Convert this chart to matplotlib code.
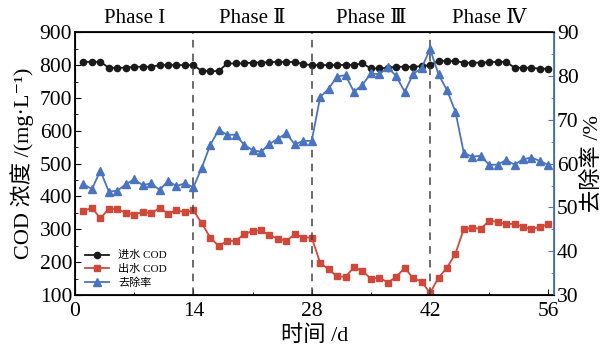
import matplotlib
matplotlib.use("Agg")
import matplotlib.pyplot as plt
from matplotlib.ticker import MultipleLocator

plt.rcParams['font.family'] = ['Liberation Serif', 'DejaVu Serif', 'Noto Sans CJK SC']
plt.rcParams['axes.unicode_minus'] = False

# data
days = list(range(1, 57))
cod_in = [810, 810, 810, 792, 792, 792, 795, 795, 795, 800, 800, 800, 800, 800,
          782, 782, 782, 805, 805, 805, 808, 808, 809, 810, 809, 810, 803, 800,
          800, 800, 800, 801, 801, 805, 790, 790, 792, 795, 795, 795, 797, 800,
          813, 813, 812, 808, 807, 808, 809, 810, 810, 792, 792, 792, 789, 789]
cod_out = [356, 366, 333, 363, 361, 351, 345, 353, 349, 365, 348, 358, 352, 358,
           318, 275, 249, 265, 265, 285, 295, 297, 282, 272, 265, 285, 275, 275,
           198, 178, 157, 155, 185, 173, 150, 153, 138, 155, 183, 151, 141, 106,
           153, 183, 226, 301, 304, 302, 326, 323, 316, 317, 307, 302, 307, 316]
removal = [55.3, 54.2, 58.4, 53.6, 53.8, 55.3, 56.4, 55.1, 55.5, 54.0, 56.0, 54.9, 55.5, 54.6,
           59.1, 64.3, 67.7, 66.6, 66.6, 64.3, 63.1, 62.7, 64.5, 65.7, 66.9, 64.4, 65.2, 65.2,
           75.2, 77.1, 79.9, 80.2, 76.4, 78.0, 80.6, 80.4, 82.0, 80.0, 76.4, 80.5, 81.8, 86.2,
           80.4, 76.8, 71.9, 62.4, 61.6, 61.8, 59.7, 59.8, 60.8, 59.8, 61.0, 61.4, 60.6, 59.7]
phase_bounds = [14, 28, 42]
phase_labels = ['Phase I', 'Phase Ⅱ', 'Phase Ⅲ', 'Phase Ⅳ']
phase_centers = [7, 21, 35, 49]

c_black = '#1a1a1a'
c_red = '#d0483a'
c_blue = '#4a74c0'

fig = plt.figure(figsize=(6.08, 3.56), dpi=100)
ax = fig.add_axes([0.1234, 0.1713, 0.7883, 0.7380])
ax2 = ax.twinx()

l1, = ax.plot(days, cod_in, '-o', color=c_black, ms=4.5, lw=1.3, label='进水 COD')
l2, = ax.plot(days, cod_out, '-s', color=c_red, ms=4.5, lw=1.3, label='出水 COD')
l3, = ax2.plot(days, removal, '-^', color=c_blue, ms=6, lw=1.3, label='去除率')

for b in phase_bounds:
    ax.axvline(b, color='#444444', ls=(0, (5, 4)), lw=1.1)

ax.set_xlim(0, 56.7)
ax.set_ylim(100, 900)
ax2.set_ylim(30, 90)
ax.set_xticks([0, 14, 28, 42, 56])
ax.xaxis.set_minor_locator(MultipleLocator(7))
ax.yaxis.set_major_locator(MultipleLocator(100))
ax.yaxis.set_minor_locator(MultipleLocator(50))
ax2.yaxis.set_major_locator(MultipleLocator(10))
ax2.yaxis.set_minor_locator(MultipleLocator(5))

ax.tick_params(axis='both', which='both', direction='in', labelsize=15.5, pad=2, top=False)
ax.tick_params(axis='x', which='both', pad=5)
ax.tick_params(which='major', length=4)
ax.tick_params(which='minor', length=2.5)
ax.tick_params(axis='y', which='both', right=False)
ax2.tick_params(axis='x', which='both', top=False, bottom=False)
ax2.tick_params(axis='y', which='both', direction='in', colors=c_blue, labelcolor='black',
                labelsize=15.5, pad=2)
ax2.tick_params(which='major', length=4)
ax2.tick_params(which='minor', length=2.5)
ax2.spines['right'].set_color(c_blue)
ax2.spines['right'].set_linewidth(1.3)
for s in ['left', 'bottom', 'top']:
    ax.spines[s].set_linewidth(1.3)

ax.set_ylabel('COD 浓度 /(mg·L⁻¹)', fontsize=16, labelpad=4)
ax2.set_ylabel('去除率 /%', fontsize=16, labelpad=2)
ax.set_xlabel('时间 /d', fontsize=16, labelpad=3)

for xc, txt in zip(phase_centers, phase_labels):
    ax.text(xc, 1.015, txt, transform=ax.get_xaxis_transform(), ha='center', va='bottom',
            fontsize=15)

ax.legend(handles=[l1, l2, l3], loc='lower left', bbox_to_anchor=(0.0, -0.01),
          frameon=False, fontsize=8, handlelength=2.2, labelspacing=0.3)

fig.savefig('out.png', dpi=100)
